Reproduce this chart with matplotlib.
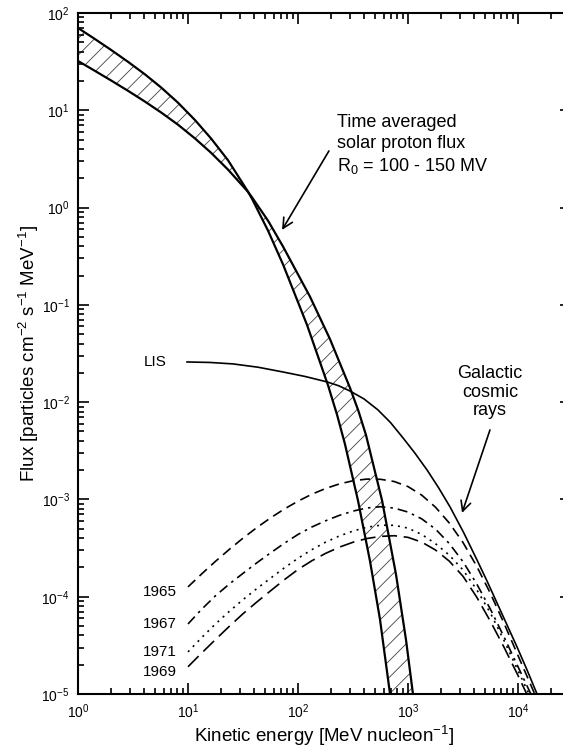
import matplotlib

matplotlib.use("Agg")
import matplotlib.pyplot as plt
import numpy as np

plt.rcParams["font.family"] = ["Liberation Sans", "DejaVu Sans"]
plt.rcParams["mathtext.fontset"] = "custom"
plt.rcParams["mathtext.rm"] = "Liberation Sans"
plt.rcParams["mathtext.it"] = "Liberation Sans:italic"
plt.rcParams["mathtext.bf"] = "Liberation Sans:bold"
plt.rcParams["hatch.linewidth"] = 0.6

# all values as log10(energy [MeV/n]) and log10(flux)

# solar proton flux, R0 = 100 MV (steeper edge of the band)
sp100_loge = [0, 0.145, 0.3, 0.455, 0.609, 0.755, 0.909, 1.064, 1.209, 1.364, 1.545,
              1.582, 1.727, 1.864, 2.082, 2.273, 2.355, 2.427, 2.545, 2.655, 2.745, 2.836]
sp100_logf = [1.846, 1.739, 1.621, 1.498, 1.369, 1.235, 1.078, 0.899, 0.711, 0.486, 0.164,
              0.090, -0.236, -0.585, -1.206, -1.827, -2.130, -2.432, -3.010, -3.637,
              -4.231, -4.995]

# solar proton flux, R0 = 150 MV
sp150_loge = [0, 0.145, 0.3, 0.455, 0.609, 0.755, 0.909, 1.064, 1.209, 1.364, 1.545,
              1.582, 1.727, 1.864, 2.109, 2.291, 2.473, 2.55, 2.618, 2.764, 2.891, 2.982, 3.045]
sp150_logf = [1.507, 1.411, 1.307, 1.200, 1.089, 0.978, 0.852, 0.710, 0.564, 0.390, 0.162,
              0.105, -0.134, -0.401, -0.916, -1.353, -1.854, -2.093, -2.338, -3.010,
              -3.772, -4.445, -5.0]

# local interstellar spectrum
lis_loge = [0.991, 1.2, 1.409, 1.6365, 1.864, 2.064, 2.264, 2.3685, 2.473, 2.6, 2.727,
            2.841, 2.955, 3.064, 3.173, 3.2775, 3.382, 3.5045, 3.627, 3.718, 3.809, 3.9,
            3.991, 4.082, 4.173]
lis_logf = [-1.587, -1.592, -1.607, -1.641, -1.690, -1.736, -1.792, -1.831, -1.886, -1.967,
            -2.08, -2.21, -2.368, -2.526, -2.697, -2.879, -3.077, -3.338, -3.622, -3.838,
            -4.064, -4.29, -4.516, -4.753, -5.0]

# modulated galactic spectra, read at the same energies
gcr_loge = [1.0, 1.125, 1.25, 1.375, 1.5, 1.625, 1.75, 1.875, 2.0, 2.125, 2.25, 2.375,
            2.5, 2.625, 2.75, 2.875, 3.0, 3.125, 3.25, 3.375, 3.5, 3.625, 3.75, 3.875,
            4.0, 4.075, 4.15]
gcr_1965 = [-3.899, -3.765, -3.636, -3.514, -3.398, -3.29, -3.19, -3.099, -3.018, -2.947,
            -2.888, -2.841, -2.808, -2.791, -2.793, -2.816, -2.868, -2.956, -3.08, -3.242,
            -3.443, -3.688, -3.968, -4.279, -4.605, -4.80, -4.995]
gcr_1967 = [-4.28, -4.128, -3.99, -3.87, -3.76, -3.652, -3.55, -3.451, -3.36, -3.284,
            -3.22, -3.164, -3.12, -3.088, -3.075, -3.089, -3.13, -3.2, -3.305, -3.453,
            -3.64, -3.869, -4.13, -4.418, -4.72, -4.90, -5.08]
gcr_1971 = [-4.567, -4.419, -4.28, -4.151, -4.03, -3.917, -3.81, -3.704, -3.605, -3.517,
            -3.44, -3.376, -3.325, -3.286, -3.265, -3.266, -3.295, -3.36, -3.455, -3.572,
            -3.725, -3.928, -4.17, -4.455, -4.76, -4.94, -5.12]
gcr_1969 = [-4.72, -4.578, -4.44, -4.305, -4.175, -4.055, -3.94, -3.826, -3.72, -3.631,
            -3.555, -3.491, -3.44, -3.402, -3.38, -3.373, -3.39, -3.439, -3.52, -3.634,
            -3.79, -4.005, -4.255, -4.524, -4.81, -4.99, -5.17]

years = ["1965", "1967", "1971", "1969"]
year_label_f = [1.12e-4, 5.25e-5, 2.71e-5, 1.69e-5]


def lin(v):
    return 10.0 ** np.asarray(v)


def main():
    fig = plt.figure(figsize=(5.63, 7.53), dpi=100)
    ax = fig.add_axes([78 / 563, 59 / 753, 492.5 / 563, 681 / 753])
    ax.set_xscale("log")
    ax.set_yscale("log")
    ax.set_xlim(1, 3e4)
    ax.set_ylim(1e-5, 1e2)

    # hatched band between the two solar spectra
    band_e = np.concatenate([lin(sp100_loge), lin(sp150_loge)[::-1]])
    band_f = np.concatenate([lin(sp100_logf), lin(sp150_logf)[::-1]])
    ax.fill(band_e, band_f, facecolor="none", edgecolor="0.25", hatch="//", linewidth=0)
    ax.plot(lin(sp100_loge), lin(sp100_logf), color="black", lw=1.6)
    ax.plot(lin(sp150_loge), lin(sp150_logf), color="black", lw=1.6)

    ax.plot(lin(lis_loge), lin(lis_logf), color="black", lw=1.2)
    e = lin(gcr_loge)
    ax.plot(e, lin(gcr_1965), color="black", lw=1.2, dashes=(6, 3.5))
    ax.plot(e, lin(gcr_1967), color="black", lw=1.2, dashes=(6, 3, 1.5, 3))
    ax.plot(e, lin(gcr_1971), color="black", lw=1.2, dashes=(1.2, 3))
    ax.plot(e, lin(gcr_1969), color="black", lw=1.2, dashes=(9, 4))

    for name, fy in zip(years, year_label_f):
        ax.text(7.9, fy, name, ha="right", va="center", fontsize=11)
    ax.text(5.0, 0.0259, "LIS", ha="center", va="center", fontsize=11)

    ax.text(226, 4.4, "Time averaged\nsolar proton flux\nR$_0$ = 100 - 150 MV",
            ha="left", va="center", fontsize=13, linespacing=1.3)
    ax.annotate("", xy=(71.6, 0.589), xytext=(191, 3.82),
                arrowprops=dict(arrowstyle="->", lw=1.2, color="black",
                                mutation_scale=18, shrinkA=0, shrinkB=0))

    ax.text(5560, 0.0127, "Galactic\ncosmic\nrays", ha="center", va="center",
            multialignment="center", fontsize=13, linespacing=1.15)
    ax.annotate("", xy=(3097, 7.26e-4), xytext=(5560, 5.18e-3),
                arrowprops=dict(arrowstyle="->", lw=1.2, color="black",
                                mutation_scale=18, shrinkA=0, shrinkB=0))

    ax.set_xlabel("Kinetic energy [MeV nucleon$^{-1}$]", fontsize=13.5, labelpad=2)
    ax.set_ylabel("Flux [particles cm$^{-2}$ s$^{-1}$ MeV$^{-1}$]", fontsize=13.5, labelpad=0)

    for s in ax.spines.values():
        s.set_linewidth(1.5)
    ax.tick_params(which="both", direction="in", top=True, right=True, width=1.2,
                   labelsize=10)
    ax.tick_params(which="major", length=8, pad=6)
    ax.tick_params(which="minor", length=4.5)

    fig.savefig("out.png", dpi=100)


if __name__ == "__main__":
    main()
